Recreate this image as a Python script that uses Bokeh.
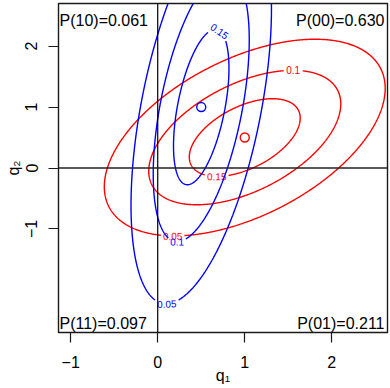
import numpy as np
import contourpy
from bokeh.plotting import figure
from bokeh.models import Range1d, FixedTicker, Span, Label
from bokeh.embed import file_html
from bokeh.resources import INLINE
from bokeh.core.properties import value

# ---- data -------------------------------------------------------------
red_mean = [1.0, 0.5]
red_sd = [1.0, 1.0]
red_rho = 0.5
blue_mean = [0.5, 1.0]
blue_sd = [0.5, 2.0]
blue_rho = 0.5
levels = [0.05, 0.1, 0.15]
level_labels = ["0.05", "0.1", "0.15"]
corner_texts = ["P(10)=0.061", "P(00)=0.630", "P(11)=0.097", "P(01)=0.211"]
x_ticks = [-1, 0, 1, 2]
y_ticks = [-1, 0, 1, 2]
x_lim = [-1.14, 2.64]
y_lim = [-2.7, 2.7]
x_title = "q\u2081"
y_title = "q\u2082"

# where (roughly) each contour label sits, per level
red_label_hints = [(0.17, -1.1), (1.56, 1.6), (0.68, -0.14)]
blue_label_hints = [(0.1, -2.2), (0.22, -1.2), (0.72, 2.26)]

# ---- layout -----------------------------------------------------------
W, H = 390, 388
ML, MR, MT, MB = 58, 3, 3, 56
FW, FH = W - ML - MR, H - MT - MB
SX = FW / (x_lim[1] - x_lim[0])
SY = FH / (y_lim[1] - y_lim[0])
FONT = "Liberation Sans"
LAB_SIZE = 10


def density(X, Y, m, s, r):
    dx = (X - m[0]) / s[0]
    dy = (Y - m[1]) / s[1]
    q = (dx ** 2 - 2 * r * dx * dy + dy ** 2) / (1 - r ** 2)
    return np.exp(-q / 2) / (2 * np.pi * s[0] * s[1] * np.sqrt(1 - r ** 2))


gx = np.linspace(x_lim[0] - 0.3, x_lim[1] + 0.3, 520)
gy = np.linspace(y_lim[0] - 0.6, y_lim[1] + 0.9, 760)
GX, GY = np.meshgrid(gx, gy)


def text_width(t, size):
    w = {".": 0.278}
    return sum(w.get(c, 0.556) for c in t) * size


def contour_with_labels(m, s, r, hints):
    z = density(GX, GY, m, s, r)
    gen = contourpy.contour_generator(gx, gy, z, line_type="Separate")
    xs, ys, lx, ly, la, lt = [], [], [], [], [], []
    for lev, lab, hint in zip(levels, level_labels, hints):
        lines = [ln for ln in gen.lines(lev) if len(ln) > 2]
        hp = np.array([hint[0] * SX, hint[1] * SY])
        best = None
        for li, ln in enumerate(lines):
            P = ln * np.array([SX, SY])
            d = np.hypot(P[:, 0] - hp[0], P[:, 1] - hp[1])
            i = int(np.argmin(d))
            if best is None or d[i] < best[0]:
                best = (d[i], li, i)
        _, li, i = best
        ln = lines[li]
        closed = np.allclose(ln[0], ln[-1])
        if closed:
            core = ln[:-1]
            core = np.roll(core, -i, axis=0)
            ln = np.vstack([core, core[:1]])
            lines[li] = ln
            i = 0
        P = ln * np.array([SX, SY])
        n = len(P)
        a = P[(i + 4) % n] if closed else P[min(i + 4, n - 1)]
        b = P[(i - 4) % n] if closed else P[max(i - 4, 0)]
        ang = np.arctan2(a[1] - b[1], a[0] - b[0])
        if ang > np.pi / 2:
            ang -= np.pi
        if ang < -np.pi / 2:
            ang += np.pi
        c = P[i]
        half = text_width(lab, LAB_SIZE) / 2 + 2.0
        lx.append(ln[i, 0]); ly.append(ln[i, 1]); la.append(ang); lt.append(lab)
        for lj, L in enumerate(lines):
            if lj != li:
                xs.append(L[:, 0]); ys.append(L[:, 1]); continue
            PP = L * np.array([SX, SY])
            keep = np.hypot(PP[:, 0] - c[0], PP[:, 1] - c[1]) >= half
            start = None
            for k in range(len(keep) + 1):
                if k < len(keep) and keep[k]:
                    if start is None:
                        start = k
                else:
                    if start is not None and k - start >= 2:
                        xs.append(L[start:k, 0]); ys.append(L[start:k, 1])
                    start = None
    return xs, ys, lx, ly, la, lt


p = figure(width=W, height=H, output_backend="svg", toolbar_location=None,
           x_range=Range1d(*x_lim), y_range=Range1d(*y_lim),
           min_border_left=ML, min_border_right=MR, min_border_top=MT, min_border_bottom=MB,
           background_fill_color="white", border_fill_color="white")
p.grid.visible = False
p.outline_line_color = "#1a1a1a"
p.outline_line_width = 1.4

for m, s, r, hints, col in [(red_mean, red_sd, red_rho, red_label_hints, "#ff0000"),
                            (blue_mean, blue_sd, blue_rho, blue_label_hints, "#0000ff")]:
    xs, ys, lx, ly, la, lt = contour_with_labels(m, s, r, hints)
    p.multi_line(xs=[list(v) for v in xs], ys=[list(v) for v in ys], line_color=col, line_width=1.4)
    p.text(x=lx, y=ly, text=lt, angle=la, text_color=col, text_align="center",
           text_baseline="middle", text_font=value(FONT), text_font_size=f"{LAB_SIZE}px")
    p.scatter(x=[m[0]], y=[m[1]], marker="circle", size=9, fill_color=None,
              line_color=col, line_width=1.4)

p.add_layout(Span(location=0, dimension="height", line_color="black", line_width=1.2))
p.add_layout(Span(location=0, dimension="width", line_color="#222222", line_width=1.6))

# corner probabilities
for t, x, y, xo, yo, al in [
    (corner_texts[0], x_lim[0], y_lim[1], 1, -17, "left"),
    (corner_texts[1], x_lim[1], y_lim[1], -3, -17, "right"),
    (corner_texts[2], x_lim[0], y_lim[0], 1, 9, "left"),
    (corner_texts[3], x_lim[1], y_lim[0], -3, 9, "right"),
]:
    p.add_layout(Label(x=x, y=y, x_offset=xo, y_offset=yo, text=t, text_align=al,
                       text_baseline="alphabetic", text_font=FONT, text_font_size="16px",
                       text_color="black"))

for ax, ticks in [(p.xaxis, x_ticks), (p.yaxis, y_ticks)]:
    ax.ticker = FixedTicker(ticks=ticks)
    ax.major_label_overrides = {t: (str(t).replace("-", "\u2212")) for t in ticks}
    ax.axis_line_color = None
    ax.major_tick_out = 10
    ax.major_tick_in = 0
    ax.minor_tick_out = 0
    ax.minor_tick_in = 0
    ax.major_tick_line_color = "#1a1a1a"
    ax.major_tick_line_width = 1.2
    ax.major_label_text_font = FONT
    ax.major_label_text_font_size = "16px"
    ax.major_label_text_color = "black"
    ax.axis_label_text_font = FONT
    ax.axis_label_text_font_size = "16px"
    ax.axis_label_text_font_style = "normal"
    ax.axis_label_text_color = "black"

p.xaxis.axis_label = x_title
p.xaxis.major_label_standoff = 13
p.xaxis.axis_label_standoff = -4
p.yaxis.axis_label = y_title
p.yaxis.major_label_orientation = "vertical"
p.yaxis.major_label_standoff = 11
p.yaxis.axis_label_standoff = 1

open("out.html", "w").write(file_html(p, INLINE))
